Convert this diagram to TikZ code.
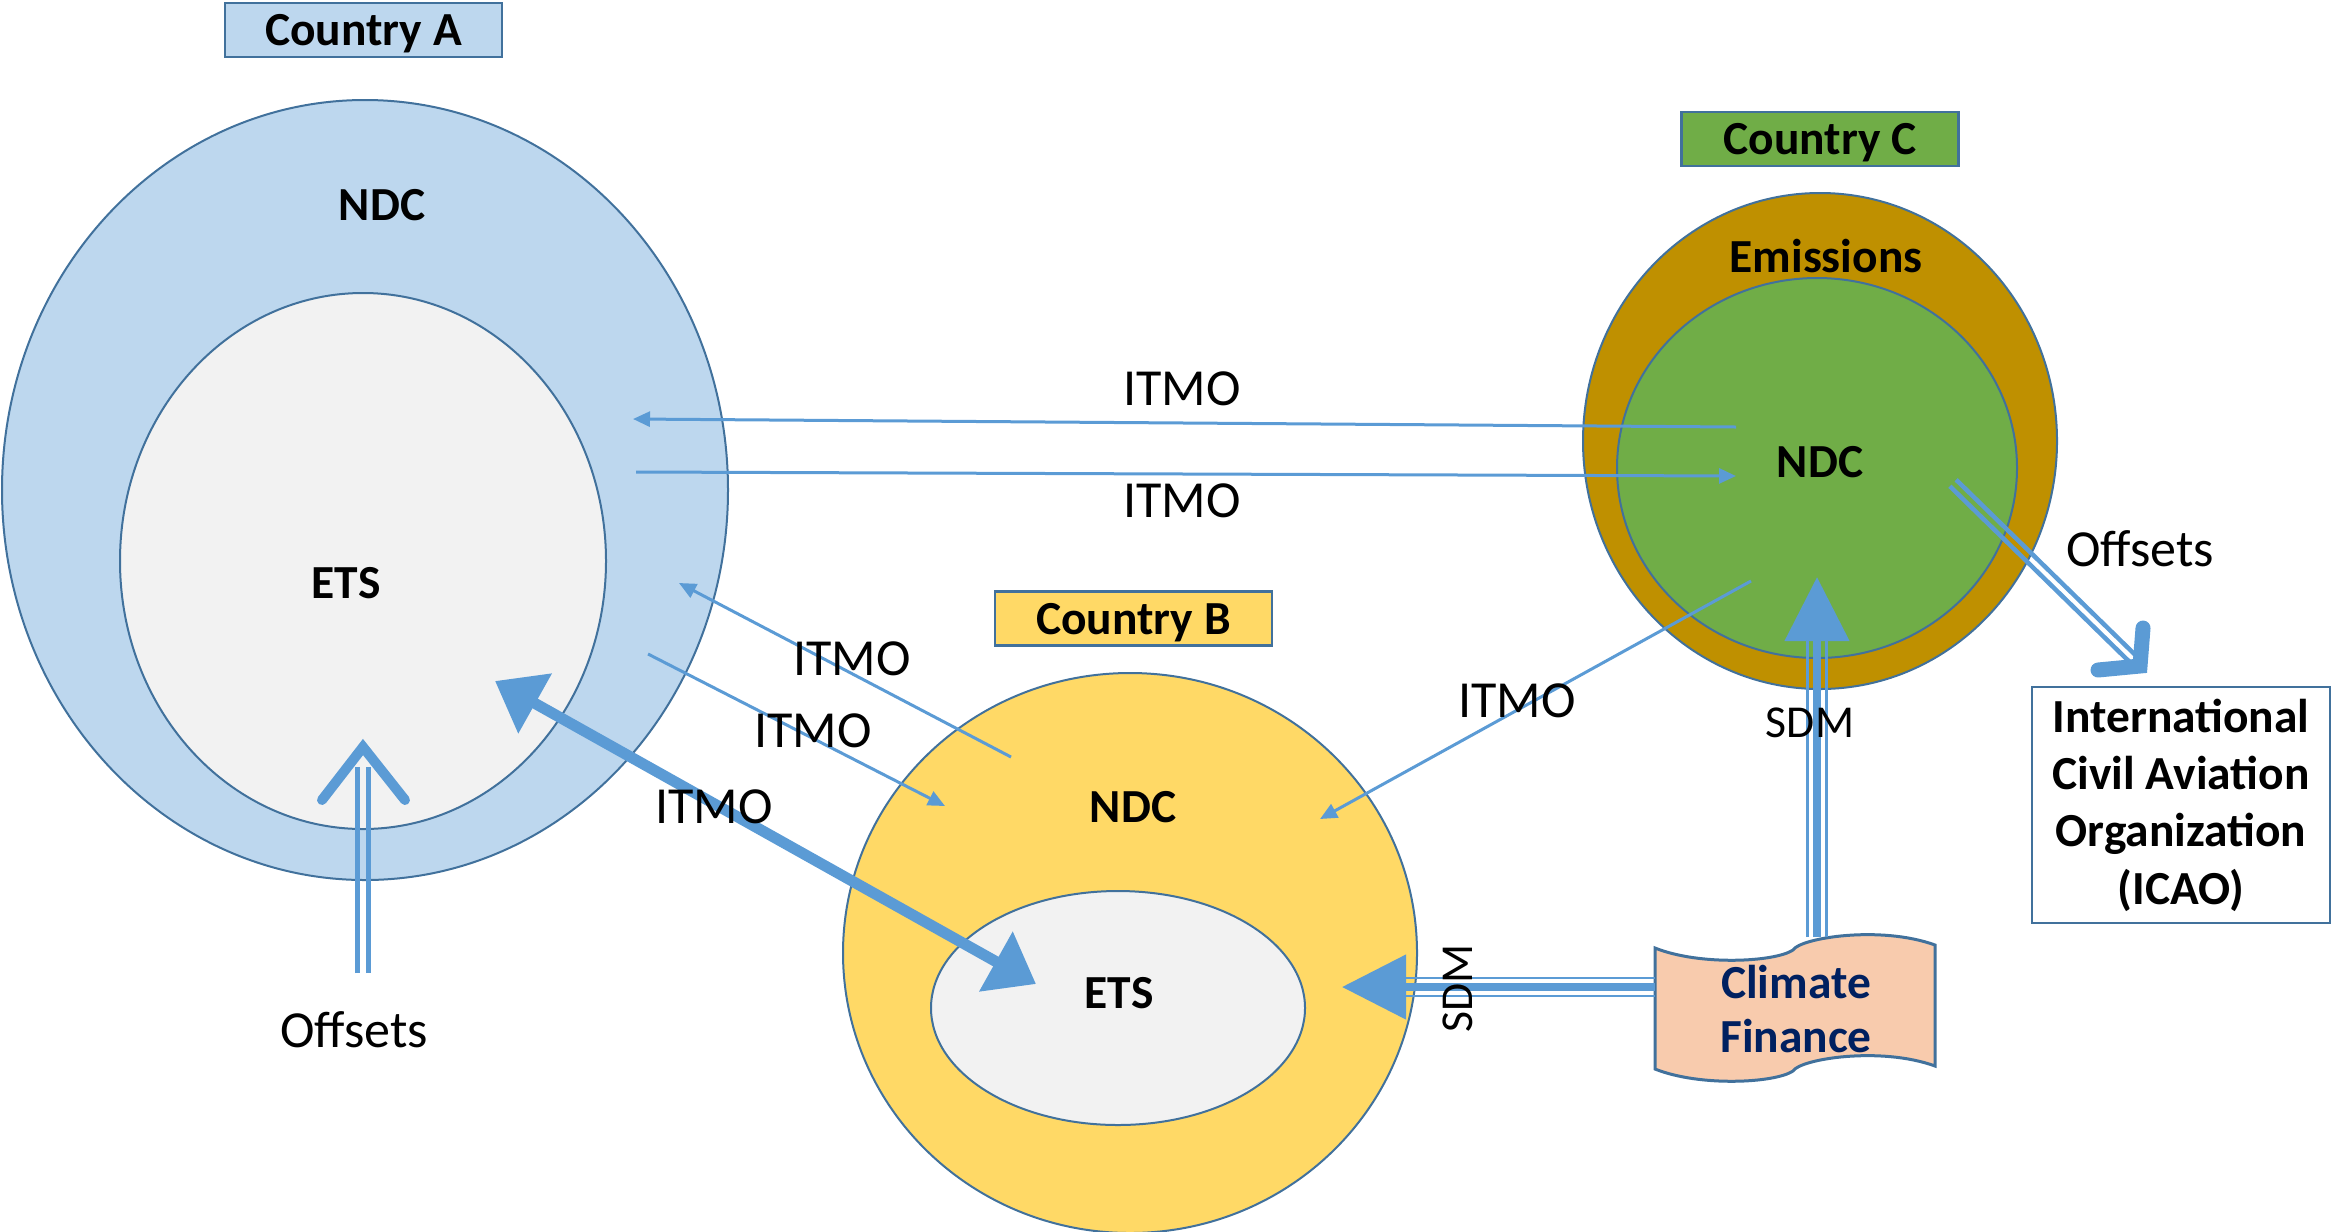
\documentclass[tikz,border=0pt]{standalone}
\usepackage{fontspec}
\setmainfont{Carlito}
\usepackage{xcolor}
\usepackage{tikz}
\usetikzlibrary{calc,arrows.meta}

\definecolor{edgeblue}{HTML}{41719C}
\definecolor{arrowblue}{HTML}{5B9BD5}
\definecolor{paleblue}{HTML}{BDD7EE}
\definecolor{etsgray}{HTML}{F2F2F2}
\definecolor{ndcyellow}{HTML}{FFD966}
\definecolor{ndcgreen}{HTML}{70AD47}
\definecolor{emisbrown}{HTML}{BF9000}
\definecolor{finpeach}{HTML}{F8CBAD}
\definecolor{finnavy}{HTML}{002060}

\begin{document}
\begin{tikzpicture}[x=0.1mm, y=-0.1mm,
	region/.style={draw=edgeblue, line width=0.2mm},
	countrytag/.style={draw=edgeblue, line width=0.25mm, minimum width=27.7mm, minimum height=5.4mm, inner sep=0pt, text depth=0pt, font=\bfseries\fontsize{13.5}{16}\selectfont},
	boldlabel/.style={font=\bfseries\fontsize{13.5}{16.3}\selectfont},
	flowlabel/.style={font=\fontsize{14.8}{17}\selectfont},
	sdmlabel/.style={font=\fontsize{13}{15}\selectfont},
	itmoflow/.style={draw=arrowblue, line width=0.3mm, -{Triangle[length=1.7mm, width=1.5mm]}},
	bigflow/.style={draw=arrowblue, line width=1.1mm, {Triangle[length=4.6mm, width=6.6mm]}-{Triangle[length=4.6mm, width=6.6mm]}},
	sdmcore/.style={draw=arrowblue, line width=0.8mm, -{Triangle[length=6.4mm, width=6.3mm]}},
	sdmside/.style={draw=arrowblue, line width=0.25mm},
	offsetline/.style={draw=arrowblue, line width=0.45mm},
	chevron/.style={draw=arrowblue, line cap=round, line join=miter}
]
						\useasboundingbox (0,0) rectangle (2331,1231);

						\coordinate (T1C) at (1736,427);
						\coordinate (T1A) at (633,419);
						\coordinate (T2A) at (636,472);
						\coordinate (T2C) at (1736,476);
						\coordinate (T3B) at (1011,757);
						\coordinate (T3A) at (679,583);
						\coordinate (T4A) at (648,654);
						\coordinate (T4B) at (945,806);
						\coordinate (T5C) at (1751,581);
						\coordinate (T5B) at (1320,819);

						\coordinate (BIGA) at (495,681);
						\coordinate (BIGB) at (1036,984);

						\coordinate (SDMV0) at (1817,937);
						\coordinate (SDMV1) at (1817,577);
						\coordinate (SDMH0) at (1655,987);
						\coordinate (SDMH1) at (1342,987);

						\coordinate (OFA0) at (363,973);
						\coordinate (OFA1) at (363,767);
						\coordinate (OFC0) at (1953,483);
						\coordinate (OFC1) at (2134,660);

						\fill[region, fill=paleblue] (365,490) ellipse [x radius=363, y radius=390];
						\fill[region, fill=etsgray] (363,561) ellipse [x radius=243, y radius=268];

						\fill[region, fill=ndcyellow] (1130,953) ellipse [x radius=287, y radius=280];
						\fill[region, fill=etsgray] (1118,1008) ellipse [x radius=187, y radius=117];

						\fill[region, fill=emisbrown] (1820,441) ellipse [x radius=237, y radius=248];
						\fill[region, fill=ndcgreen] (1817,468) ellipse [x radius=200, y radius=190];

						\fill[region, line width=0.3mm, fill=finpeach] (1655,948) .. controls (1700,966) and (1775,962) .. (1793,950) .. controls (1800,938) and (1880,925) .. (1935,945) -- (1935,1066) .. controls (1880,1046) and (1800,1059) .. (1793,1071) .. controls (1775,1083) and (1700,1087) .. (1655,1069) -- cycle;

						\node[countrytag, fill=paleblue] (tagA) at (363.5,30) {Country A};
						\node[countrytag, fill=ndcyellow] (tagB) at (1133.5,618.5) {Country B};
						\node[countrytag, fill=ndcgreen] (tagC) at (1820,139) {Country C};

						\node[draw=edgeblue, line width=0.25mm, fill=white, minimum width=29.8mm, minimum height=23.3mm, align=center, boldlabel] (icao) at (2181,805) {International\\Civil Aviation\\Organization\\(ICAO)};

						\draw[itmoflow] (T1C) -- (T1A);
						\draw[itmoflow] (T2A) -- (T2C);
						\draw[itmoflow] (T3B) -- (T3A);
						\draw[itmoflow] (T4A) -- (T4B);
						\draw[itmoflow] (T5C) -- (T5B);

						\draw[bigflow] (BIGA) -- (BIGB);

						\draw[sdmcore] (SDMV0) -- (SDMV1);
						\draw[sdmside] ($(SDMV0)+(-9.5,0)$) -- ($(SDMV1)+(-9.5,64)$);
						\draw[sdmside] ($(SDMV0)+(9.5,0)$) -- ($(SDMV1)+(9.5,64)$);

						\draw[sdmcore] (SDMH0) -- (SDMH1);
						\draw[sdmside] ($(SDMH0)+(0,-9)$) -- ($(SDMH1)+(60,-9)$);
						\draw[sdmside] ($(SDMH0)+(0,9)$) -- ($(SDMH1)+(60,9)$);

						\draw[offsetline] ($(OFA0)+(-5.5,0)$) -- ($(OFA1)+(-5.5,0)$);
						\draw[offsetline] ($(OFA0)+(5.5,0)$) -- ($(OFA1)+(5.5,0)$);
						\draw[chevron, line width=1mm] ($(OFA1)+(-41,33)$) -- ($(OFA1)+(0,-20)$) -- ($(OFA1)+(42,33)$);

						\draw[offsetline] ($(OFC0)!0.45mm!90:(OFC1)$) -- ($(OFC1)!0.45mm!-90:(OFC0)$);
						\draw[offsetline] ($(OFC0)!0.45mm!-90:(OFC1)$) -- ($(OFC1)!0.45mm!90:(OFC0)$);
						\draw[chevron, line width=1.5mm] ($(OFC1)+(9,-32)$) -- ($(OFC1)+(6,6)$) -- ($(OFC1)+(-36,10)$);

						\node[boldlabel] (ndcA) at (382,205) {NDC};
						\node[boldlabel] (etsA) at (346,583) {ETS};
						\node[boldlabel] (ndcB) at (1133,807) {NDC};
						\node[boldlabel] (etsB) at (1119,993) {ETS};
						\node[boldlabel] (emisC) at (1826,256) {Emissions};
						\node[boldlabel] (ndcC) at (1820,462) {NDC};
						\node[boldlabel, text=finnavy, align=center, font=\bfseries\fontsize{13.5}{15.6}\selectfont] (finance) at (1796,1009) {Climate\\Finance};

						\node[flowlabel] (itmo1) at (1182,389) {ITMO};
						\node[flowlabel] (itmo2) at (1182,501) {ITMO};
						\node[flowlabel] (itmo3) at (852,659) {ITMO};
						\node[flowlabel] (itmo4) at (813,731) {ITMO};
						\node[flowlabel] (itmo5) at (714,807) {ITMO};
						\node[flowlabel] (itmo6) at (1517,701) {ITMO};

						\node[flowlabel] (offA) at (354,1030) {Offsets};
						\node[flowlabel] (offC) at (2140,549) {Offsets};

						\node[sdmlabel] (sdmC) at (1810,723) {SDM};
						\node[sdmlabel, rotate=90] (sdmB) at (1458,988) {SDM};
					\end{tikzpicture}
\end{document}
